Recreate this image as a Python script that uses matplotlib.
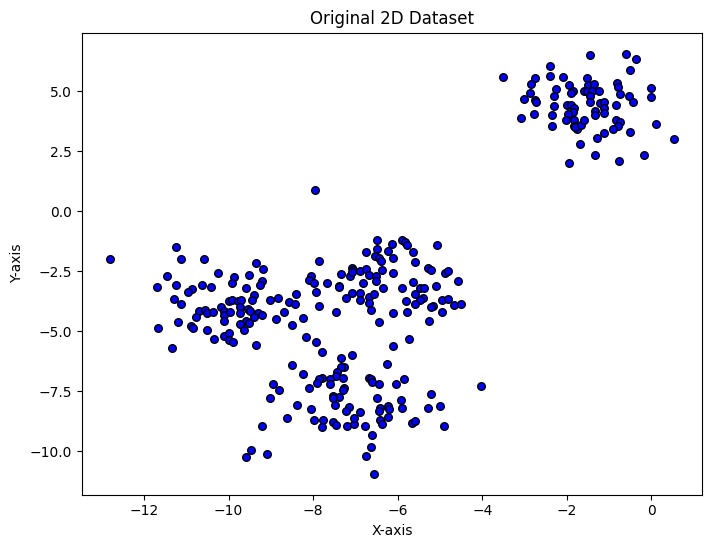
import numpy as np
import matplotlib.pyplot as plt

# Upper right cluster
x_a = [-3.52, -2.75, -2.85, -2.88, -3.02, -2.76, -2.73, -2.78, -3.09, -2.41, -2.41, -2.09, -2.26,
       -2.31, -2.31, -2.34, -2.34, -1.96, -1.85, -1.91, -2.00, -1.91, -1.84, -1.86, -1.98, -2.03,
       -1.84, -1.84, -1.76, -1.81, -1.67, -1.59, -1.45, -1.53, -1.50, -1.36, -1.59, -1.52, -1.40,
       -1.24, -1.45, -1.45, -1.22, -1.13, -1.13, -1.33, -1.34, -1.12, -0.84, -0.82, -0.78, -0.75,
       -0.61, -0.37, -0.50, -0.53, -0.43, 0.00, -0.02, -0.84, -0.75, -0.80, -0.91, -0.50, 0.11,
       0.53, -1.12, -1.29, -1.70, -1.33, -1.96, -0.77, -0.18]
y_a = [5.61, 5.53, 5.28, 4.94, 4.69, 4.63, 4.57, 4.07, 3.90, 6.07, 5.65, 5.61, 5.11,
       4.78, 4.40, 3.99, 3.57, 5.25, 4.99, 4.94, 4.44, 4.44, 4.28, 4.15, 4.03, 3.78,
       3.78, 3.56, 3.44, 3.51, 3.61, 3.78, 6.49, 5.53, 5.25, 5.28, 5.00, 5.01, 5.01,
       4.99, 4.79, 4.53, 4.49, 4.54, 4.28, 4.17, 4.01, 4.11, 4.44, 5.33, 5.17, 4.90,
       6.57, 6.36, 5.90, 4.82, 4.57, 5.15, 4.74, 3.79, 3.71, 3.54, 3.44, 3.32, 3.65,
       2.99, 3.24, 3.07, 2.78, 2.36, 1.99, 2.11, 2.36]

# Left cluster
x_b = [-12.80, -11.24, -11.12, -10.57, -11.45, -11.69, -11.24, -10.86, -10.95, -10.64, -10.41,
       -10.26, -9.86, -9.91, -9.51, -9.34, -9.18, -9.20, -9.25, -9.58, -9.39, -9.44, -11.28,
       -11.12, -10.71, -10.55, -10.50, -10.78, -10.36, -10.19, -10.10, -10.11, -9.96, -10.12,
       -9.98, -9.91, -9.77, -9.71, -9.72, -9.55, -9.74, -9.49, -9.30, -9.20, -9.39, -9.58,
       -9.72, -9.51, -9.63, -11.19, -11.66, -10.88, -10.83, -10.52, -10.34, -10.12, -9.98,
       -10.00, -9.89, -11.33, -9.34, -9.01, -8.84, -8.58, -8.44, -8.40, -8.68, -8.89, -8.51]
y_b = [-2.01, -1.51, -2.01, -2.01, -2.72, -3.14, -3.06, -3.26, -3.35, -3.06, -3.14,
       -2.56, -2.76, -3.01, -2.64, -2.14, -2.39, -2.89, -3.06, -3.18, -3.51, -3.72, -3.64,
       -3.85, -4.14, -4.12, -4.26, -4.39, -4.18, -4.01, -4.14, -4.31, -4.18, -4.56,
       -3.76, -3.72, -3.75, -3.68, -4.01, -4.06, -4.26, -4.17, -4.26, -4.31, -4.39, -4.56,
       -4.68, -4.64, -4.97, -4.60, -4.85, -4.80, -4.85, -4.93, -5.31, -5.18, -5.06,
       -5.35, -5.47, -5.72, -5.56, -3.72, -3.60, -3.80, -3.85, -3.43, -4.22, -4.51, -4.76]

# Middle cluster
x_c = [-7.95, -7.85, -8.06, -8.09, -7.99, -7.94, -7.68, -7.85, -8.23, -7.47, -7.35, -7.38, -7.40,
       -7.23, -7.07, -7.14, -7.09, -7.05, -7.09, -6.88, -6.74, -6.69, -6.83, -6.88, -6.90, -6.69,
       -6.56, -6.69, -6.62, -6.45, -6.74, -6.48, -6.50, -6.54, -6.45, -6.40, -6.24, -6.14, -6.10,
       -6.38, -6.12, -6.52, -6.52, -6.34, -5.91, -5.83, -5.77, -5.63, -5.60, -5.07, -5.29, -5.22,
       -4.89, -4.81, -4.58, -5.63, -5.91, -5.10, -5.48, -5.39, -5.58, -5.41, -5.48, -5.58, -5.81,
       -4.95, -4.81, -4.66, -4.51, -5.17, -5.22, -4.95, -5.77, -6.10, -5.27, -8.17, -7.94, -6.12,
       -5.74]
y_c = [0.87, -2.06, -2.72, -2.85, -3.01, -3.35, -3.01, -3.93, -4.47, -4.18, -2.60, -3.10, -3.14,
       -3.60, -3.39, -2.72, -2.35, -2.43, -2.53, -2.51, -2.42, -2.64, -3.01, -3.39, -3.68, -3.56,
       -3.47, -3.81, -4.10, -4.60, -1.72, -1.21, -1.58, -1.86, -1.97, -2.06, -1.64, -1.35, -1.97,
       -2.47, -2.56, -2.71, -2.89, -3.18, -1.21, -1.28, -1.39, -1.68, -2.10, -1.39, -2.37, -2.47,
       -2.56, -2.51, -2.89, -2.97, -3.22, -3.10, -3.22, -3.22, -3.43, -3.60, -3.72, -3.85, -3.76,
       -3.68, -3.64, -3.89, -3.85, -3.96, -4.01, -4.22, -4.18, -4.26, -4.56, -5.26, -5.43, -5.60,
       -5.31]

# Lower cluster
x_d = [-7.80, -7.35, -7.09, -6.26, -8.49, -8.23, -8.94, -8.81, -9.01, -7.28, -7.35, -7.44, -7.47,
       -7.78, -7.85, -7.92, -8.09, -7.59, -7.61, -7.30, -7.26, -7.30, -7.54, -7.40, -7.52, -7.49,
       -8.37, -8.06, -8.61, -7.99, -7.76, -7.80, -7.52, -7.45, -7.21, -7.04, -7.04, -7.16, -7.23,
       -6.90, -6.78, -9.20, -6.69, -6.62, -6.60, -6.45, -6.48, -6.41, -6.45, -6.22, -6.21, -6.22,
       -6.43, -6.38, -6.04, -5.86, -5.93, -5.91, -5.22, -5.29, -5.01, -5.67, -5.60, -4.91, -4.04,
       -6.60, -6.62, -6.76, -6.55, -9.48, -9.58, -9.10]
y_d = [-5.85, -6.10, -6.01, -6.35, -6.39, -6.80, -7.22, -7.43, -7.80, -6.51, -6.51, -6.68, -6.85,
       -6.93, -7.01, -7.14, -7.35, -7.01, -7.22, -6.97, -7.35, -7.43, -7.68, -7.76, -7.80, -8.06,
       -8.06, -8.26, -8.60, -8.68, -8.68, -9.01, -8.80, -8.89, -8.93, -8.85, -8.60, -8.14, -8.31,
       -8.35, -8.97, -8.97, -6.93, -7.01, -7.10, -7.18, -7.80, -8.18, -8.31, -8.10, -8.26, -8.56,
       -8.72, -8.85, -7.22, -7.01, -7.85, -8.18, -7.60, -8.22, -8.10, -8.81, -8.76, -8.93, -7.30,
       -9.31, -9.81, -10.22, -10.93, -9.93, -10.26, -10.10]

x = np.array(x_a + x_b + x_c + x_d)
y = np.array(y_a + y_b + y_c + y_d)

fig = plt.figure(figsize=(7.11, 5.47), dpi=100)
ax = fig.add_axes([82 / 711, 1 - 494.5 / 547, 620 / 711, 462 / 547])

ax.scatter(x, y, c='blue', edgecolors='k', s=30)

ax.set_title('Original 2D Dataset')
ax.set_xlabel('X-axis')
ax.set_ylabel('Y-axis')

fig.savefig('out.png', dpi=100)
